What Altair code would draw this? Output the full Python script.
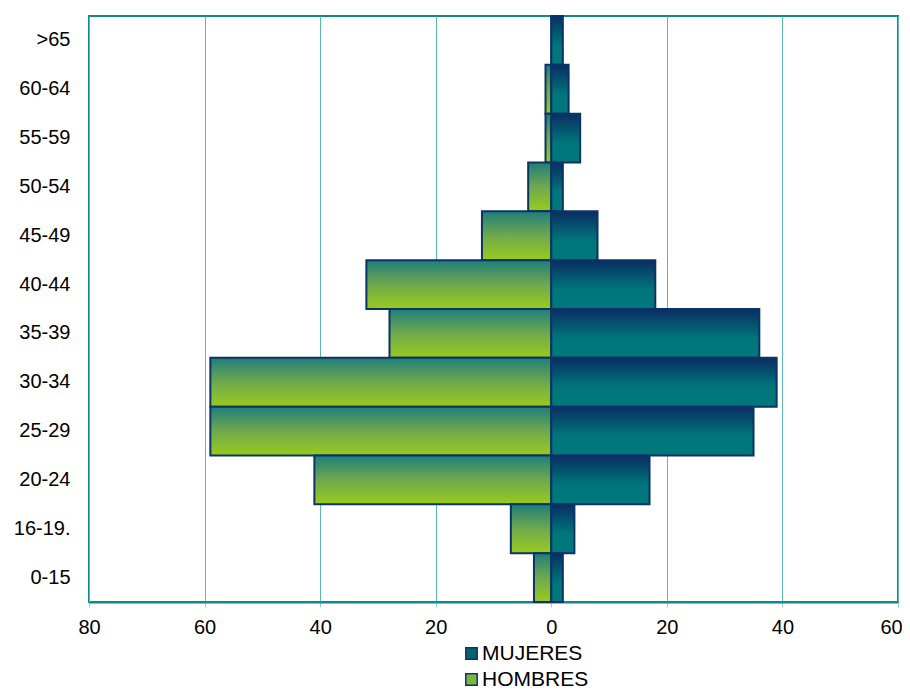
import altair as alt
import pandas as pd

grupos = [">65", "60-64", "55-59", "50-54", "45-49", "40-44", "35-39",
          "30-34", "25-29", "20-24", "16-19.", "0-15"]
mujeres = [2, 3, 5, 2, 8, 18, 36, 39, 35, 17, 4, 2]
hombres = [0, 1, 1, 4, 12, 32, 28, 59, 59, 41, 7, 3]
x_ticks = [-80, -60, -40, -20, 0, 20, 40, 60]
series = ["MUJERES", "HOMBRES"]
series_colors = ["#05636f", "#7cb63a"]

df_m = pd.DataFrame({"grupo": grupos, "valor": mujeres})
df_h = pd.DataFrame({"grupo": grupos, "valor": hombres})
df_leg = pd.DataFrame({"grupo": [grupos[0]] * 2, "serie": series})

FONT = "Liberation Sans"
STROKE = "#0b3466"

grad_m = alt.Gradient(
    gradient="linear", x1=0, x2=0, y1=0, y2=1,
    stops=[alt.GradientStop(color="#0a2d63", offset=0),
           alt.GradientStop(color="#00767a", offset=0.6),
           alt.GradientStop(color="#00787a", offset=1)])
grad_h = alt.Gradient(
    gradient="linear", x1=0, x2=0, y1=0, y2=1,
    stops=[alt.GradientStop(color="#1f7d7a", offset=0),
           alt.GradientStop(color="#6fa94e", offset=0.5),
           alt.GradientStop(color="#9acb1c", offset=1)])

y_enc = alt.Y("grupo:N", sort=grupos,
              scale=alt.Scale(paddingInner=0, paddingOuter=0),
              axis=alt.Axis(title=None, ticks=False, domain=False, grid=False,
                            labelFont=FONT, labelFontSize=20, labelColor="#000000",
                            labelPadding=19))
x_scale = alt.Scale(domain=[-80, 60], nice=False, zero=False)
x_axis = alt.Axis(title=None, values=x_ticks, labelExpr="abs(datum.value)",
                  grid=True, gridColor="#5bb8b5", gridWidth=1,
                  domain=True, domainColor="#0e8a87", domainWidth=2,
                  ticks=True, tickColor="#9fd3d1", tickSize=5,
                  labelFlush=False, labelOverlap=False,
                  labelOffset={"condition": {"test": "datum.value == 60", "value": -7},
                               "value": 0},
                  labelFont=FONT, labelFontSize=20, labelColor="#000000",
                  labelPadding=10)

bars_m = alt.Chart(df_m).mark_bar(fill=grad_m, stroke=STROKE, strokeWidth=2).encode(
    y=y_enc,
    x=alt.X("valor:Q", scale=x_scale, axis=x_axis),
    x2=alt.datum(0),
)

bars_h = alt.Chart(df_h).transform_calculate(neg="-datum.valor").mark_bar(
    fill=grad_h, stroke=STROKE, strokeWidth=2).encode(
    y=y_enc,
    x=alt.X("neg:Q", scale=x_scale, axis=x_axis),
    x2=alt.datum(0),
)

legend_layer = alt.Chart(df_leg).mark_square(opacity=0).encode(
    y=y_enc,
    x=alt.datum(0),
    color=alt.Color("serie:N",
                    scale=alt.Scale(domain=series, range=series_colors),
                    legend=alt.Legend(title=None, orient="none", legendX=372, legendY=627,
                                      direction="vertical", symbolType="square",
                                      symbolSize=130, symbolOpacity=1,
                                      symbolStrokeColor=STROKE, symbolStrokeWidth=1.5,
                                      labelFont=FONT, labelFontSize=21,
                                      labelColor="#000000", rowPadding=4,
                                      labelOffset=0, padding=0)),
)

chart = alt.layer(bars_h, bars_m, legend_layer).properties(
    width=809, height=586,
    autosize=alt.AutoSizeParams(type="none"),
    padding={"left": 81, "top": 8, "right": 4, "bottom": 90},
).configure_view(stroke="#0e8a87", strokeWidth=2)

chart.save("out.html", embed_options={"renderer": "svg", "actions": False})
